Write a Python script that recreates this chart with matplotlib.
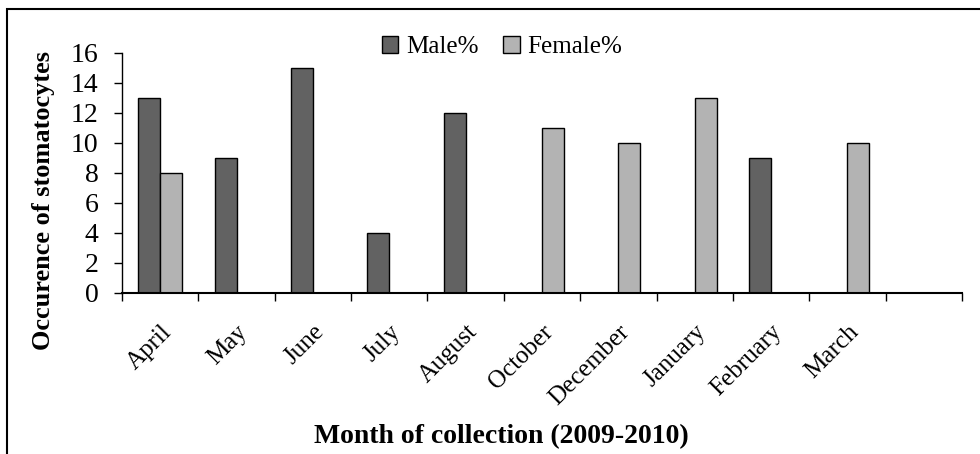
import numpy as np
import matplotlib.pyplot as plt
from matplotlib.patches import Rectangle, Patch

months = ["April", "May", "June", "July", "August", "October",
          "December", "January", "February", "March", ""]
male = [13, 9, 15, 4, 12, np.nan, np.nan, np.nan, 9, np.nan, np.nan]
female = [8, np.nan, np.nan, np.nan, np.nan, 11, 10, 13, np.nan, 10, np.nan]
yticks = [0, 2, 4, 6, 8, 10, 12, 14, 16]

plt.rcParams['font.family'] = ['Liberation Serif', 'DejaVu Serif']

W, H = 980, 454
fig = plt.figure(figsize=(W / 100, H / 100), dpi=100)

# outer chart frame (cut at right/bottom like the source)
fig.patches.append(Rectangle((7 / W, -0.1), 1.2, 1 - 9 / H + 0.1,
                             transform=fig.transFigure, fill=False,
                             edgecolor='black', linewidth=1.5))

ax = fig.add_axes([122 / W, (H - 293) / H, 840 / W, 240 / H])

x = np.arange(len(months))
bw = 1 / 3.5
ax.bar(x - bw / 2, male, bw, color='#626262', edgecolor='black', linewidth=1)
ax.bar(x + bw / 2, female, bw, color='#b3b3b3', edgecolor='black', linewidth=1)

ax.set_xlim(-0.5, len(months) - 0.5)
ax.set_ylim(0, 16)
ax.set_yticks(yticks)
ax.tick_params(axis='y', labelsize=20, length=6, width=1, direction='out', pad=11)

ax.set_xticks(x)
ax.set_xticklabels(months, rotation=45, ha='right', rotation_mode='anchor',
                   fontsize=18)
ax.set_xticks(np.arange(len(months) + 1) - 0.5, minor=True)
ax.tick_params(axis='x', which='major', length=0, pad=20)
ax.tick_params(axis='x', which='minor', length=6, width=1, direction='out')

for s in ['top', 'right']:
    ax.spines[s].set_visible(False)
ax.spines['left'].set_linewidth(1)
ax.spines['bottom'].set_linewidth(1.5)

fig.text(44 / W, 1 - 201 / H, "Occurence of stomatocytes", rotation=90,
         ha='center', va='center', fontsize=19, fontweight='bold')
fig.text(501 / W, 1 - 437 / H, "Month of collection (2009-2010)",
         ha='center', va='center', fontsize=20, fontweight='bold')

handles = [Patch(facecolor='#626262', edgecolor='black', label='Male%'),
           Patch(facecolor='#b3b3b3', edgecolor='black', label='Female%')]
fig.legend(handles=handles, loc='center', bbox_to_anchor=(502 / W, 1 - 47 / H),
           ncol=2, frameon=False, fontsize=18, handlelength=0.65,
           handleheight=0.65, handletextpad=0.3, columnspacing=1.0)

fig.savefig("out.png", dpi=100)
